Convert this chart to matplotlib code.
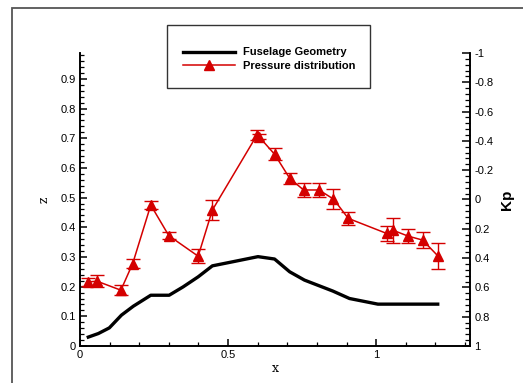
import matplotlib
matplotlib.use("Agg")
import matplotlib.pyplot as plt
from matplotlib.patches import Rectangle
from matplotlib.lines import Line2D
from matplotlib.ticker import MultipleLocator, FixedLocator

# Fuselage geometry (x, z)
geo_x = [0.028, 0.062, 0.099, 0.140, 0.180, 0.239, 0.301, 0.348, 0.399, 0.447,
         0.517, 0.601, 0.657, 0.708, 0.758, 0.854, 0.910, 1.006, 1.208]
geo_z = [0.030, 0.042, 0.061, 0.104, 0.134, 0.171, 0.171, 0.199, 0.233, 0.270,
         0.284, 0.301, 0.293, 0.250, 0.222, 0.185, 0.160, 0.141, 0.141]

# Pressure distribution (x, Kp, error)
kp_x = [0.028, 0.058, 0.138, 0.178, 0.239, 0.300, 0.399, 0.447, 0.598, 0.604,
        0.657, 0.708, 0.755, 0.807, 0.856, 0.906, 1.036, 1.056, 1.108, 1.157, 1.208]
kp_v = [0.562, 0.558, 0.619, 0.437, 0.038, 0.247, 0.387, 0.072, -0.441, -0.430,
        -0.309, -0.145, -0.065, -0.065, -0.003, 0.129, 0.232, 0.209, 0.250, 0.277, 0.384]
kp_err = [0.026, 0.041, 0.034, 0.031, 0.029, 0.025, 0.049, 0.068, 0.036, 0.020,
          0.040, 0.036, 0.046, 0.051, 0.068, 0.043, 0.054, 0.086, 0.050, 0.057, 0.088]

left_ticks = [0, 0.1, 0.2, 0.3, 0.4, 0.5, 0.6, 0.7, 0.8, 0.9]
left_labels = ["0", "0.1", "0.2", "0.3", "0.4", "0.5", "0.6", "0.7", "0.8", "0.9"]
right_ticks = [-1, -0.8, -0.6, -0.4, -0.2, 0, 0.2, 0.4, 0.6, 0.8, 1]
right_labels = ["-1", "-0.8", "-0.6", "-0.4", "-0.2", "0", "0.2", "0.4", "0.6", "0.8", "1"]
x_ticks = [0, 0.5, 1]
x_labels = ["0", "0.5", "1"]

plt.rcParams['font.family'] = ['Liberation Sans', 'DejaVu Sans']

W, H = 523, 383
fig = plt.figure(figsize=(W / 100, H / 100), dpi=100)

def fx(px):
    return px / W

def fy(py):
    return 1 - py / H

ax = fig.add_axes([fx(80), fy(346), fx(470) - fx(80), fy(53) - fy(346)])
ax2 = ax.twinx()

red = '#d40000'

ax.plot(geo_x, geo_z, color='black', lw=2.4, solid_joinstyle='round', zorder=3)
ax2.errorbar(kp_x, kp_v, yerr=kp_err, fmt='-^', color=red, ecolor=red,
             lw=1.1, elinewidth=1.0, capsize=5, capthick=1.0, markersize=6.5,
             zorder=4)

ax.set_xlim(0, 1.317)
ax.set_ylim(0, 0.987)
ax2.set_ylim(1, -1)

for a in (ax, ax2):
    a.spines['top'].set_visible(False)
    for s in a.spines.values():
        s.set_linewidth(1.2)

ax.set_xticks(x_ticks)
ax.set_xticklabels(x_labels)
ax.xaxis.set_minor_locator(FixedLocator([0.1, 0.2, 0.3, 0.4, 0.6, 0.7, 0.8, 0.9, 1.1, 1.2, 1.3]))
ax.set_yticks(left_ticks)
ax.set_yticklabels(left_labels)
ax.yaxis.set_minor_locator(MultipleLocator(0.02))
ax2.set_yticks(right_ticks)
ax2.set_yticklabels(right_labels)
ax2.yaxis.set_minor_locator(MultipleLocator(0.04))

ax.tick_params(axis='both', which='major', direction='in', length=5, width=1.1,
               labelsize=8, pad=3, top=False)
ax.tick_params(axis='both', which='minor', direction='in', length=3, width=0.9, top=False)
ax2.tick_params(axis='y', which='major', direction='in', length=6, width=1.1,
                labelsize=8, pad=3)
ax2.tick_params(axis='y', which='minor', direction='in', length=3.5, width=0.9)

ax.set_xlabel('x', family='DejaVu Serif', fontsize=9, labelpad=1)
ax.set_ylabel('z', family='DejaVu Serif', fontsize=9, labelpad=7)
ax2.set_ylabel('Kp', fontsize=11, fontweight='bold', rotation=90, labelpad=5)

# outer frame
fig.add_artist(Rectangle((fx(12), fy(400)), fx(600), fy(8) - fy(400),
                         transform=fig.transFigure, fill=False,
                         edgecolor='#555555', lw=1.3))

# legend box
fig.add_artist(Rectangle((fx(167), fy(88)), fx(370) - fx(167), fy(25) - fy(88),
                         transform=fig.transFigure, fill=False,
                         edgecolor='#333333', lw=1.0))
fig.add_artist(Line2D([fx(183), fx(235)], [fy(52), fy(52)], transform=fig.transFigure,
                      color='black', lw=2.4))
fig.add_artist(Line2D([fx(183), fx(235)], [fy(65), fy(65)], transform=fig.transFigure,
                      color=red, lw=1.1))
fig.add_artist(Line2D([fx(209)], [fy(65)], transform=fig.transFigure,
                      color=red, marker='^', markersize=6.5, lw=0))
fig.text(fx(243), fy(52), 'Fuselage Geometry', fontsize=8, fontweight='bold',
         va='center', ha='left')
fig.text(fx(243), fy(66), 'Pressure distribution', fontsize=8, fontweight='bold',
         va='center', ha='left')

fig.savefig('out.png', dpi=100)
